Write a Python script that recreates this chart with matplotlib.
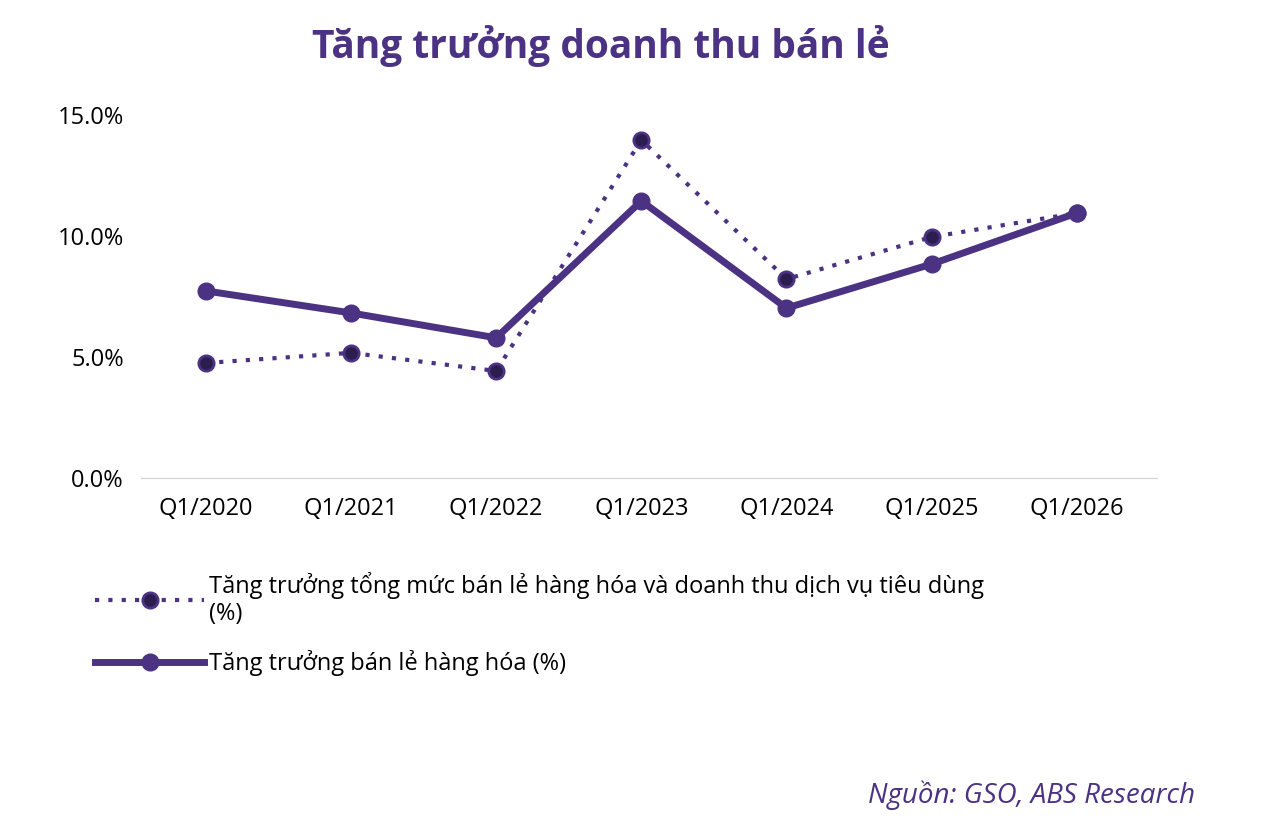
import matplotlib
matplotlib.use("Agg")
import matplotlib.pyplot as plt

categories = ["Q1/2020", "Q1/2021", "Q1/2022", "Q1/2023", "Q1/2024", "Q1/2025", "Q1/2026"]
tong_muc = [4.75, 5.17, 4.42, 13.97, 8.22, 9.96, 10.95]
hang_hoa = [7.73, 6.82, 5.79, 11.45, 7.02, 8.84, 10.95]
yticks = [0, 5, 10, 15]

purple = "#4b3282"
dark = "#2b1d4d"
plt.rcParams['font.family'] = ['Open Sans', 'DejaVu Sans']

fig = plt.figure(figsize=(12.78, 8.34), dpi=100)
ax = fig.add_axes([0.11, 0.427, 0.795, 0.435])
x = list(range(len(categories)))
l1, = ax.plot(x, tong_muc, linestyle=(0, (1, 2.2)), linewidth=3, color=purple,
              marker='o', markersize=11, markerfacecolor=dark, markeredgecolor=purple,
              markeredgewidth=2)
l2, = ax.plot(x, hang_hoa, linewidth=5, color=purple, marker='o', markersize=12,
              markerfacecolor=purple, markeredgecolor=purple)
ax.set_xlim(-0.45, 6.55)
ax.set_ylim(0, 15)
ax.set_yticks(yticks)
ax.set_yticklabels([f"{v:.1f}%" for v in yticks])
ax.set_xticks(x)
ax.set_xticklabels(categories)
ax.tick_params(axis='both', length=0, labelsize=17, colors='black')
ax.tick_params(axis='x', pad=14)
ax.tick_params(axis='y', pad=12)
for s in ['top', 'right', 'left']:
    ax.spines[s].set_visible(False)
ax.spines['bottom'].set_color('#d0d0d0')

fig.text(0.47, 0.945, "Tăng trưởng doanh thu bán lẻ", ha='center', va='center',
         fontsize=28, fontweight='bold', color=purple)
fig.legend([l1, l2], ["Tăng trưởng tổng mức bán lẻ hàng hóa và doanh thu dịch vụ tiêu dùng\n(%)",
                      "Tăng trưởng bán lẻ hàng hóa (%)"],
           loc='upper left', bbox_to_anchor=(0.058, 0.34), frameon=False, fontsize=17,
           handlelength=4.6, handletextpad=0.2, labelspacing=1.0)
fig.text(0.935, 0.047, "Nguồn: GSO, ABS Research", ha='right', va='center',
         fontsize=20, fontstyle='italic', color=purple)
fig.savefig("out.png", dpi=100)
